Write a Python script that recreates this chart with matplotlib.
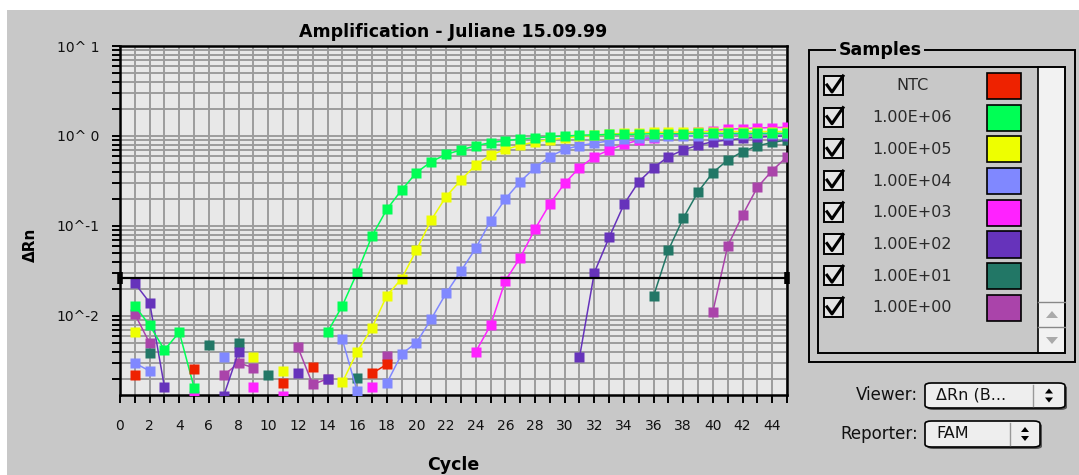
import numpy as np
import matplotlib.pyplot as plt
from matplotlib.patches import Rectangle, FancyBboxPatch, Polygon
from matplotlib.lines import Line2D
from matplotlib.ticker import MultipleLocator, LogLocator, FixedLocator, FixedFormatter, NullFormatter

plt.rcParams['font.family'] = ['DejaVu Sans']

W, H = 1079, 475
BG = "#c8c8c8"
PLOT_BG = "#e8e8e8"
GRID = "#9c9c9c"

# sample names and their trace colours
samples = ["NTC", "1.00E+06", "1.00E+05", "1.00E+04",
           "1.00E+03", "1.00E+02", "1.00E+01", "1.00E+00"]
colors = ["#ee2200", "#00ff55", "#eeff00", "#8088ff",
          "#ff22ff", "#6633bb", "#227766", "#aa44aa"]

# delta Rn per cycle; cycles not listed had no positive reading
ntc_cyc = [1, 5, 11, 13, 17, 18]
ntc_val = [0.0022, 0.00255, 0.0018, 0.0027, 0.0023, 0.0029]

e6_cyc = [1, 2, 3, 4, 5] + list(range(14, 46))
e6_val = [0.0129, 0.0079, 0.0042, 0.0066, 0.0016,
          0.0066, 0.0130, 0.0303, 0.0774, 0.153, 0.251, 0.392, 0.519, 0.625, 0.699,
          0.78, 0.843, 0.887, 0.925, 0.955, 0.98, 1.0, 1.02, 1.03, 1.04,
          1.04, 1.05, 1.06, 1.06, 1.06, 1.07, 1.07, 1.07, 1.07, 1.07, 1.07, 1.07]

e5_cyc = [1, 9, 11] + list(range(15, 46))
e5_val = [0.0066, 0.0035, 0.00245,
          0.00183, 0.0040, 0.0074, 0.0168, 0.026, 0.054, 0.117, 0.212, 0.324, 0.476,
          0.615, 0.71, 0.79, 0.86, 0.91, 0.95, 0.99, 1.02, 1.05, 1.07,
          1.09, 1.1, 1.1, 1.11, 1.11, 1.12, 1.12, 1.12, 1.12, 1.12, 1.12]

e4_cyc = [1, 2, 7, 15, 16] + list(range(18, 46))
e4_val = [0.0030, 0.00245, 0.00347, 0.0055, 0.00145,
          0.00179, 0.00378, 0.00506, 0.00927, 0.0179, 0.0316, 0.0565, 0.114, 0.2, 0.311,
          0.445, 0.589, 0.711, 0.782, 0.83, 0.885, 0.92, 0.95, 0.97, 0.99,
          1.0, 1.01, 1.02, 1.03, 1.04, 1.05, 1.05, 1.05]

e3_cyc = [5, 9, 11, 17] + list(range(24, 46))
e3_val = [0.0013, 0.00162, 0.0013, 0.00162,
          0.0040, 0.0079, 0.0247, 0.0445, 0.0926, 0.176, 0.298, 0.445, 0.589, 0.699,
          0.807, 0.9, 0.96, 1.02, 1.06, 1.1, 1.15, 1.19, 1.21, 1.23,
          1.24, 1.25]

e2_cyc = [1, 2, 3, 7, 8, 12, 14] + list(range(31, 46))
e2_val = [0.0231, 0.0141, 0.00162, 0.0013, 0.0040, 0.00231, 0.00201,
          0.00347, 0.0303, 0.0748, 0.174, 0.311, 0.445, 0.589, 0.699, 0.79, 0.865,
          0.9, 0.94, 0.97, 0.99, 1.0]

e1_cyc = [2, 6, 8, 10, 16] + list(range(36, 46))
e1_val = [0.00385, 0.00476, 0.00497, 0.00221, 0.00203,
          0.0167, 0.0541, 0.122, 0.24, 0.392, 0.541, 0.67, 0.775, 0.85, 0.9]

e0_cyc = [1, 2, 7, 8, 9, 12, 13, 14, 18] + list(range(40, 46))
e0_val = [0.0105, 0.0050, 0.0022, 0.0030, 0.00267, 0.00449, 0.00174, 0.0020, 0.00359,
          0.0112, 0.06, 0.132, 0.269, 0.412, 0.589]

threshold = 0.0262

series = [(ntc_cyc, ntc_val), (e6_cyc, e6_val), (e5_cyc, e5_val), (e4_cyc, e4_val),
          (e3_cyc, e3_val), (e2_cyc, e2_val), (e1_cyc, e1_val), (e0_cyc, e0_val)]


def fx(x):
    return x / W


def fy(y):
    return 1 - y / H


def fig_rect(x0, y0, x1, y1, **kw):
    return Rectangle((fx(x0), fy(y1)), fx(x1) - fx(x0), fy(y0) - fy(y1),
                     transform=fig.transFigure, **kw)


fig = plt.figure(figsize=(W / 100, H / 100), dpi=100, facecolor="white")
fig.add_artist(fig_rect(7, 10, W, H, fc=BG, ec="none", zorder=0))

ax = fig.add_axes([fx(120), fy(395), fx(787) - fx(120), fy(46) - fy(395)])
ax.set_facecolor(PLOT_BG)
ax.set_yscale("log")
ax.set_xlim(0, 45)
ax.set_ylim(0.001325, 10)

# draw low-concentration samples first so the early risers sit on top
for i in [7, 6, 5, 4, 3, 2, 1, 0]:
    cyc, val = series[i]
    y = np.full(45, np.nan)
    y[np.array(cyc) - 1] = val
    ax.plot(np.arange(1, 46), y, color=colors[i], lw=1.1, marker="s",
            ms=6.5, mec="none", zorder=3)

ax.axhline(threshold, color="black", lw=1.6, zorder=4)
ax.plot([0, 45], [threshold, threshold], ls="none", marker="|", ms=9, mew=4,
        color="black", clip_on=False, zorder=5)

ax.xaxis.set_major_locator(MultipleLocator(2))
ax.xaxis.set_minor_locator(MultipleLocator(1))
ax.yaxis.set_major_locator(FixedLocator([0.01, 0.1, 1, 10]))
ax.yaxis.set_major_formatter(FixedFormatter(["10^-2", "10^-1", "10^ 0", "10^ 1"]))
ax.yaxis.set_minor_locator(LogLocator(base=10, subs=np.arange(2, 10)))
ax.yaxis.set_minor_formatter(NullFormatter())
ax.grid(True, which="both", color=GRID, lw=1.4, zorder=1)
ax.set_axisbelow(True)

ax.tick_params(axis="both", which="both", direction="out", length=6, width=1.4,
               color="black", labelsize=10, labelcolor="#111111")
ax.tick_params(axis="x", pad=11)
ax.tick_params(axis="y", pad=9)
for side in ["left", "bottom", "top", "right"]:
    ax.spines[side].set_linewidth(1.8)
    ax.spines[side].set_color("black")

fig.text(fx(453), fy(32), "Amplification - Juliane 15.09.99", ha="center",
         va="center", fontsize=12.5, fontweight="bold")
fig.text(fx(453), fy(465), "Cycle", ha="center", va="center", fontsize=12.5,
         fontweight="bold")
fig.text(fx(30), fy(245), "\u0394Rn", ha="center", va="center", fontsize=11,
         fontweight="bold", rotation=90)

# sample list panel
fig.add_artist(fig_rect(809, 50, 1075, 362, fc="none", ec="black", lw=1.4))
fig.text(fx(880), fy(50), "Samples", ha="center", va="center", fontsize=12.5,
         fontweight="bold", bbox=dict(fc=BG, ec="none", pad=2))
fig.add_artist(fig_rect(1038, 67, 1065, 353, fc="#f2f2f2", ec="none"))
fig.add_artist(fig_rect(818, 67, 1065, 353, fc="none", ec="black", lw=1.4))
fig.add_artist(Line2D([fx(1038), fx(1038)], [fy(67), fy(353)], color="black", lw=1.2,
                      transform=fig.transFigure))
for yy in [302, 327]:
    fig.add_artist(Line2D([fx(1038), fx(1065)], [fy(yy), fy(yy)], color="#888888",
                          lw=1.0, transform=fig.transFigure))
fig.add_artist(Polygon([(fx(1046), fy(318)), (fx(1058), fy(318)), (fx(1052), fy(311))],
                       closed=True, fc="#aaaaaa", ec="none", transform=fig.transFigure))
fig.add_artist(Polygon([(fx(1046), fy(337)), (fx(1058), fy(337)), (fx(1052), fy(344))],
                       closed=True, fc="#aaaaaa", ec="none", transform=fig.transFigure))

for i, (name, col) in enumerate(zip(samples, colors)):
    yc = 86 + 31.7 * i
    fig.add_artist(fig_rect(824, yc - 10, 843, yc + 9, fc="#e4e4e4", ec="black", lw=1.4))
    fig.add_artist(Line2D([fx(827), fx(832), fx(843)],
                          [fy(yc - 1), fy(yc + 6), fy(yc - 10)],
                          color="black", lw=2.2, transform=fig.transFigure))
    fig.text(fx(912), fy(yc), name, ha="center", va="center", fontsize=11.5,
             color="#2a2a2a")
    fig.add_artist(fig_rect(987, yc - 13, 1021, yc + 13, fc=col, ec="black", lw=1.2))

# viewer / reporter selectors
for label, text, y0, y1, x1, xdiv in [("Viewer:", "\u0394Rn (B...", 383, 408, 1065, 1033),
                                      ("Reporter:", "FAM", 421, 447, 1040, 1010)]:
    yc = (y0 + y1) / 2
    fig.text(fx(918), fy(yc), label, ha="right", va="center", fontsize=12,
             color="#111111")
    fig.add_artist(FancyBboxPatch((fx(927), fy(y1 + 2)), fx(x1) - fx(925), fy(y0) - fy(y1),
                                  boxstyle="round,pad=0,rounding_size=0.006",
                                  fc="#555555", ec="none", transform=fig.transFigure))
    fig.add_artist(FancyBboxPatch((fx(925), fy(y1)), fx(x1) - fx(925), fy(y0) - fy(y1),
                                  boxstyle="round,pad=0,rounding_size=0.006",
                                  fc="#eeeeee", ec="black", lw=1.2,
                                  transform=fig.transFigure))
    fig.add_artist(Line2D([fx(xdiv), fx(xdiv)], [fy(y0 + 2), fy(y1 - 2)], color="#999999",
                          lw=1.0, transform=fig.transFigure))
    fig.text(fx(936), fy(yc), text, ha="left", va="center", fontsize=11.5,
             color="#111111")
    xa = (xdiv + x1) / 2
    fig.add_artist(Polygon([(fx(xa - 4), fy(yc - 2)), (fx(xa + 4), fy(yc - 2)),
                            (fx(xa), fy(yc - 7))], closed=True, fc="black", ec="none",
                           transform=fig.transFigure))
    fig.add_artist(Polygon([(fx(xa - 4), fy(yc + 2)), (fx(xa + 4), fy(yc + 2)),
                            (fx(xa), fy(yc + 7))], closed=True, fc="black", ec="none",
                           transform=fig.transFigure))

fig.savefig("out.png", dpi=100, facecolor=fig.get_facecolor())
